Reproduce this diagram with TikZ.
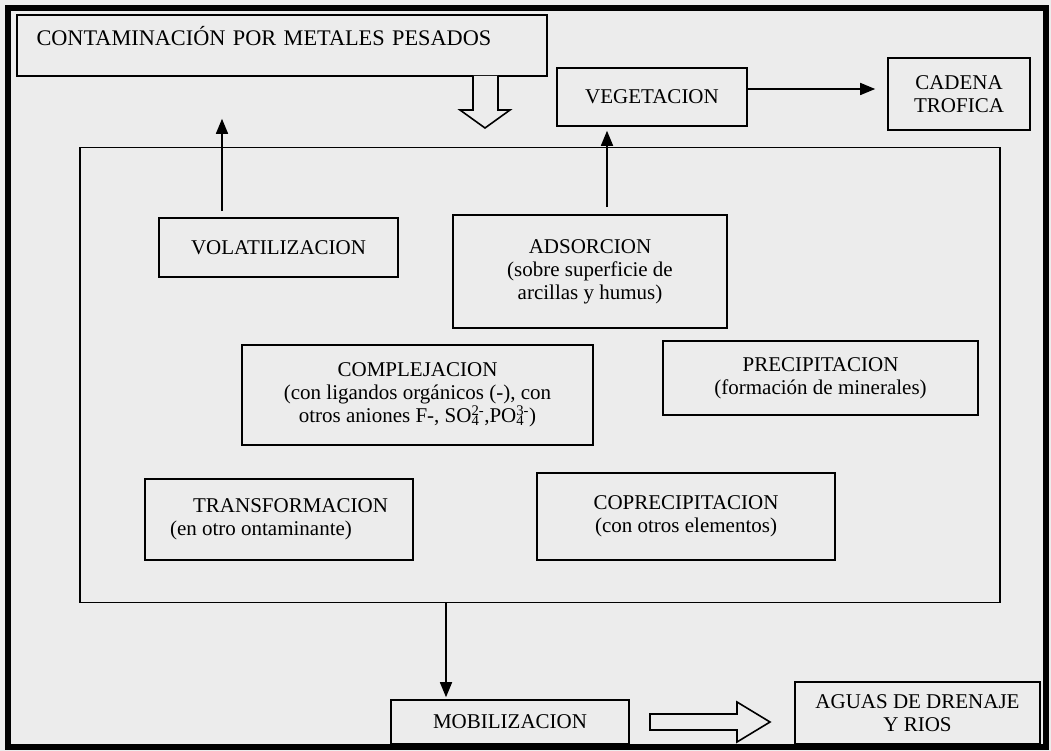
\documentclass[tikz,border=0pt]{standalone}
\usepackage{fontspec}
\setmainfont{Liberation Serif}
\usetikzlibrary{arrows.meta,calc,positioning}
\definecolor{paper}{RGB}{236,236,236}
\tikzset{
  box/.style={draw,rectangle,line width=1.6pt,inner sep=2pt,align=center,
    font=\fontsize{21}{23}\selectfont},
  frameline/.style={draw,rectangle,line width=1.6pt},
  hollow/.style={draw,line width=1.6pt,fill=paper,line join=miter}
}
\newcommand{\subsup}[2]{\rlap{\textsubscript{#1}}\textsuperscript{#2}}

\begin{document}
\begin{tikzpicture}[x=1pt,y=-1pt,>={Triangle[length=15pt,width=12pt]}]
  \fill[paper] (0,0) rectangle (1051,751);
  \useasboundingbox (0,0) rectangle (1051,751);
  \draw[line width=6pt] (8,8) rectangle (1046,747);

  \node[box,minimum width=530pt,minimum height=61pt,align=left,text width=491pt,
    text height=15pt,text depth=14pt,font=\fontsize{22.3}{24}\selectfont] (contam) at (282,45.5)
    {CONTAMINACIÓN POR METALES PESADOS};
  \node[box,minimum width=190pt,minimum height=58pt] (veg) at (652,97) {VEGETACION};
  \node[box,minimum width=142pt,minimum height=72pt] (cadena) at (959,94) {CADENA\\TROFICA};
  \node[frameline,minimum width=920pt,minimum height=455pt] (frame) at (540,375) {};

  \node[box,minimum width=239pt,minimum height=59pt] (volat) at (278.5,247.5) {VOLATILIZACION};
  \node[box,minimum width=274pt,minimum height=113pt] (adsor) at (590,271.5)
    {ADSORCION\\(sobre superficie de\\arcillas y humus)};
  \node[box,minimum width=351pt,minimum height=100pt] (complej) at (417.5,395)
    {COMPLEJACION\\(con ligandos orgánicos (-), con\\otros aniones F-, SO\subsup{4}{2-},PO\subsup{4}{3-})};
  \node[box,minimum width=315pt,minimum height=74pt] (precip) at (820.5,378)
    {PRECIPITACION\\(formación de minerales)};
  \node[box,minimum width=268pt,minimum height=81pt,align=left] (transf) at (279,519.5)
    {\hspace*{1.1em}TRANSFORMACION\\(en otro ontaminante)};
  \node[box,minimum width=298pt,minimum height=87pt] (coprec) at (686,516.5)
    {COPRECIPITACION\\(con otros elementos)};

  \node[box,minimum width=238pt,minimum height=44pt] (mobil) at (510,722) {MOBILIZACION};
  \node[box,minimum width=245pt,minimum height=62pt] (aguas) at (917.5,713) {AGUAS DE DRENAJE\\Y RIOS};

  % flechas
  \draw[->,line width=1.6pt,shorten <=6pt,shorten >=42pt] ([xshift=-56.5pt]volat.north) -- ([xshift=-56.5pt]volat.north |- contam.south);
  \draw[->,line width=1.6pt,shorten <=7pt,shorten >=4pt] ([xshift=17pt]adsor.north) -- ([xshift=17pt]adsor.north |- veg.south);
  \draw[->,line width=1.6pt,shorten >=12pt] ([yshift=8pt]veg.east) -- ([yshift=8pt]veg.east -| cadena.west);
  \draw[->,line width=1.6pt,shorten >=2pt] ([xshift=-64pt]mobil.north |- frame.south) -- ([xshift=-64pt]mobil.north);

  \draw[hollow] (473,76) -- (473,110) -- (460,110) -- (485,128) -- (510,110) -- (498,110) -- (498,76);
  \draw[hollow] (650,714) -- (737,714) -- (737,702) -- (770,722) -- (737,742) -- (737,730) -- (650,730) -- cycle;
\end{tikzpicture}
\end{document}
